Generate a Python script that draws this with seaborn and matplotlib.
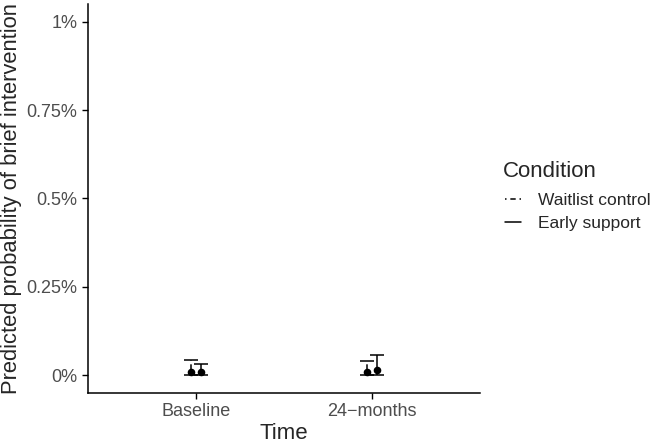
import matplotlib
matplotlib.use('Agg')
import matplotlib.pyplot as plt
from matplotlib.lines import Line2D
import seaborn as sns
import pandas as pd

# data (predicted probability, in percent)
times = ['Baseline', '24−months']
conditions = ['Waitlist control', 'Early support']
est_waitlist = [0.010, 0.010]
low_waitlist = [0.0, 0.0]
high_waitlist = [0.042, 0.040]
est_early = [0.010, 0.014]
low_early = [0.0, 0.0]
high_early = [0.033, 0.058]

sns.set_style('ticks')
plt.rcParams['font.family'] = ['Liberation Sans', 'DejaVu Sans']

rows = []
for i, t in enumerate(times):
    rows.append(dict(time=t, cond=conditions[0], est=est_waitlist[i], lo=low_waitlist[i], hi=high_waitlist[i]))
    rows.append(dict(time=t, cond=conditions[1], est=est_early[i], lo=low_early[i], hi=high_early[i]))
df = pd.DataFrame(rows)

dodge = {conditions[0]: -0.03, conditions[1]: 0.03}
styles = {conditions[0]: (0, (1, 2.5, 3.5, 2.5)), conditions[1]: '-'}
df['x'] = df['time'].map({t: i for i, t in enumerate(times)}) + df['cond'].map(dodge)

fig, ax = plt.subplots(figsize=(6.54, 4.43), dpi=100)
fig.subplots_adjust(left=0.1346, right=0.734, bottom=0.113, top=0.991)

for c in conditions:
    d = df[df['cond'] == c]
    eb = ax.errorbar(d['x'], d['est'], yerr=[d['est'] - d['lo'], d['hi'] - d['est']],
                     fmt='none', ecolor='black', elinewidth=1.1, capsize=5, capthick=1.1)
    for lc in eb[2]:
        lc.set_linestyle(styles[c])

sns.scatterplot(data=df, x='x', y='est', color='black', s=30, edgecolor='black',
                linewidth=0, legend=False, ax=ax, zorder=3)

ax.set_xlim(-0.614, 1.614)
ax.set_ylim(-0.05, 1.05)
ax.set_xticks(range(len(times)))
ax.set_xticklabels(times)
ax.set_yticks([0, 0.25, 0.5, 0.75, 1])
ax.set_yticklabels(['0%', '0.25%', '0.5%', '0.75%', '1%'])
ax.tick_params(axis='both', labelsize=13, colors='black', labelcolor='#4d4d4d', length=4, width=1)
ax.set_xlabel('Time', fontsize=16, labelpad=2)
ax.set_ylabel('Predicted probability of brief intervention', fontsize=15.8, labelpad=3)
sns.despine(ax=ax)
for s in ['left', 'bottom']:
    ax.spines[s].set_linewidth(1.1)
    ax.spines[s].set_color('black')

# legend: title as its own text, entries below it
fig.text(0.769, 0.6005, 'Condition', fontsize=16, ha='left', va='baseline')
handles = [Line2D([], [], color='black', lw=1.1, linestyle=styles[c]) for c in conditions]
leg = fig.legend(handles, conditions, loc='upper left',
                 bbox_to_anchor=(0.7722, 0.5655), frameon=False, fontsize=12.5,
                 borderpad=0, borderaxespad=0, handlelength=0.9, handletextpad=1.0,
                 labelspacing=0.5)

plt.savefig('out.png', dpi=100)
plt.close()
